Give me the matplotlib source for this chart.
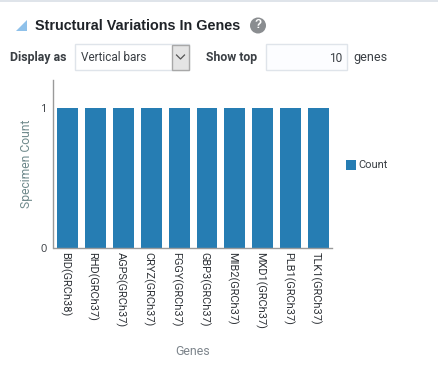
import matplotlib
matplotlib.use('Agg')
import matplotlib.pyplot as plt
from matplotlib.patches import Rectangle, Polygon, Circle
from matplotlib.transforms import ScaledTranslation

plt.rcParams['font.family'] = ['Open Sans', 'DejaVu Sans']

genes = ['BID(GRCh38)', 'RHD(GRCh37)', 'AGPS(GRCh37)', 'CRYZ(GRCh37)', 'FGGY(GRCh37)',
         'GBP3(GRCh37)', 'MIB2(GRCh37)', 'MXD1(GRCh37)', 'PLB1(GRCh37)', 'TLK1(GRCh37)']
counts = [1, 1, 1, 1, 1, 1, 1, 1, 1, 1]
y_ticks = [0, 1]

W, H = 439, 367
BLUE = '#267db3'
TXT = '#3a3f44'
GREY = '#9a9a9a'
fig = plt.figure(figsize=(W / 100, H / 100), dpi=100, facecolor='white')

# page layer in pixel coordinates
bg = fig.add_axes([0, 0, 1, 1])
bg.set_xlim(0, W)
bg.set_ylim(H, 0)
bg.axis('off')

bg.add_patch(Rectangle((0, 0), W, 1.5, fc='#dfe4ea', ec='none'))
bg.add_patch(Polygon([(16, 31), (27, 20), (27, 31)], fc='#8fc1ea', ec='none'))
bg.text(35, 26, 'Structural Variations In Genes', fontsize=10.4, fontweight='bold',
        color='#1f2328', va='center', family=['Liberation Sans'])
bg.add_patch(Circle((258, 25.5), 8, fc='#8a8d90', ec='none'))
bg.text(258, 25.5, '?', fontsize=8.5, fontweight='bold', color='white', ha='center',
        va='center', family=['Liberation Sans'])

bg.text(10, 57, 'Display as', fontsize=8.9, fontweight='bold', color=TXT, va='center',
        family=['Roboto'])
bg.add_patch(Rectangle((75.5, 44), 114, 26, fc='white', ec='#dfe4ea', lw=1))
bg.text(81, 57.5, 'Vertical bars', fontsize=8.5, color=TXT, va='center', family=['Roboto'])
bg.add_patch(Rectangle((172.5, 44.5), 16.5, 25.5, fc='#e4e4e4', ec='#a8a8a8', lw=1))
bg.plot([176.5, 180.5, 184.5], [55, 59, 55], color='#555555', lw=0.9)

bg.text(206, 57.5, 'Show top', fontsize=8.8, fontweight='bold', color=TXT, va='center',
        family=['Roboto'])
bg.add_patch(Rectangle((266.5, 44), 81, 26, fc='#fcfdff', ec='#dfe4ea', lw=1))
bg.text(342, 58, '10', fontsize=8.6, color=TXT, va='center', ha='right', family=['Roboto'])
bg.text(353.5, 57, 'genes', fontsize=9, color=TXT, va='center', family=['Roboto'])

# chart, axes box placed to the reference pixels
left, right, top, bottom = 53.5, 332, 80, 247.5
ax = fig.add_axes([left / W, 1 - bottom / H, (right - left) / W, (bottom - top) / H])
ax.patch.set_alpha(0)
x = list(range(len(genes)))
bars = ax.bar(x, counts, width=0.75, color=BLUE, label='Count')
ax.set_xlim(-0.5, 9.48)
ax.set_ylim(0, 167.5 / 139.5)
ax.set_yticks(y_ticks)
ax.set_xticks(x)
ax.set_xticklabels(genes, rotation=270, ha='center', va='top', fontsize=7.9,
                   color='#2f3338', family=['Roboto'])
ax.tick_params(axis='both', length=0)
ax.tick_params(axis='x', pad=3.5)
ax.tick_params(axis='y', pad=5, labelsize=8, labelcolor='#3a3f44')
# labels sit a little left of the bar centres
for lab in ax.get_xticklabels():
    lab.set_transform(lab.get_transform() + ScaledTranslation(-3 / 100, 0, fig.dpi_scale_trans))
for s in ['top', 'right']:
    ax.spines[s].set_visible(False)
for s in ['left', 'bottom']:
    ax.spines[s].set_color(GREY)
    ax.spines[s].set_linewidth(1)
ax.grid(False)

bg.text(27, 164, 'Specimen Count', rotation=90, fontsize=8.7, color='#6f8a8c',
        ha='center', va='center', family=['Roboto'])
bg.text(193, 351.5, 'Genes', fontsize=8.9, color='#7d858c', ha='center', va='center',
        family=['Roboto'])

# legend
bg.add_patch(Rectangle((346, 160), 10, 10, fc=BLUE, ec='none'))
bg.text(358.5, 164.5, 'Count', fontsize=8, color='#3a3f44', va='center', family=['Roboto'])

fig.savefig('out.png', dpi=100, facecolor='white')
